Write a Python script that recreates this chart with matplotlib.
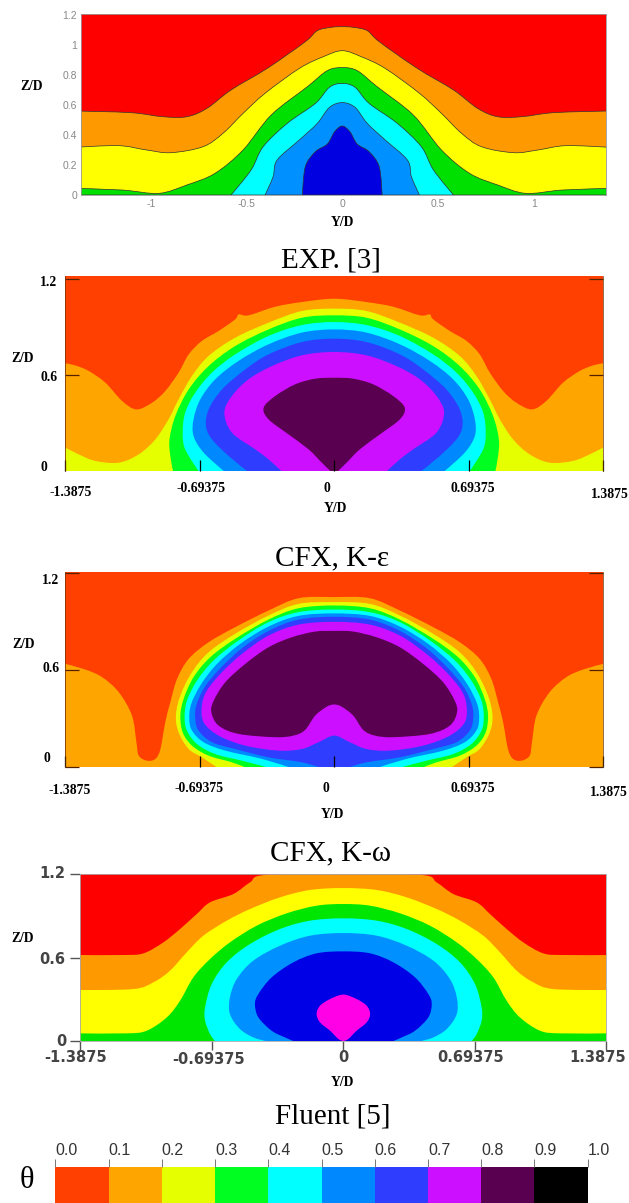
import matplotlib
matplotlib.use('Agg')
import matplotlib.pyplot as plt
from matplotlib.path import Path
from matplotlib.patches import PathPatch
import numpy as np

W, H = 629, 1203
plt.rcParams['font.family'] = ['Liberation Serif', 'DejaVu Sans']

# contour boundaries, half profile (Y/D >= 0), outermost first. The field is mirrored about Y/D = 0
exp_y = [
    [0, .057, .13, .193, .392, .581, .706, .811, .937, 1.105, 1.39, 1.39],
    [0, .099, .224, .403, .518, .623, .727, .895, 1.021, 1.168, 1.39, 1.39],
    [0, .078, .182, .371, .518, .665, .811, .958, 1.147, 1.39, 1.39],
    [0, .067, .14, .287, .413, .476, .581],
    [0, .067, .13, .224, .34, .361, .403],
    [0, .04, .078, .14, .193, .208],
]
exp_z = [
    [1.122, 1.118, 1.096, 1.022, .844, .700, .578, .522, .522, .549, .56, 0],
    [.962, .922, .844, .678, .544, .411, .322, .282, .30, .329, .318, 0],
    [.849, .829, .722, .533, .30, .144, .067, .011, .033, .044, 0],
    [.744, .718, .611, .478, .322, .167, 0],
    [.616, .584, .478, .367, .233, .122, 0],
    [.46, .422, .340, .289, .189, 0],
]
exp_colors = ['#ff9900', '#ffff00', '#00e000', '#00ffff', '#0090ff', '#0000e0']
exp_bg = '#ff0000'

ke_y = [
    [0, .167, .304, .442, .493, .511, .597, .683, .751, .803, .872, .94, 1.021, 1.095, 1.181, 1.267, 1.336, 1.3875, 1.3875],
    [0, .167, .339, .511, .648, .734, .803, .855, .923, 1.009, 1.112, 1.233, 1.319, 1.3875, 1.3875],
    [0, .167, .339, .511, .648, .751, .82, .85, .846, .832],
    [0, .167, .339, .511, .631, .717, .769, .782, .769, .7],
    [0, .167, .339, .494, .614, .691, .726, .726, .674, .57],
    [0, .167, .339, .459, .579, .648, .662, .631, .545, .45],
    [0, .167, .321, .442, .528, .567, .528, .407, .339, .273],
    [0, .098, .201, .304, .364, .339, .236, .132, .064, .02],
]
ke_z = [
    [1.077, 1.056, 1.027, .973, .979, .948, .875, .813, .729, .615, .5, .427, .385, .438, .552, .625, .66, .673, 0],
    [1.015, 1.0, .927, .833, .719, .594, .448, .323, .198, .104, .052, .063, .104, .146, 0],
    [.973, .958, .885, .781, .656, .51, .344, .198, .094, 0],
    [.931, .912, .844, .729, .615, .49, .365, .24, .135, 0],
    [.885, .865, .792, .688, .573, .448, .323, .219, .115, 0],
    [.827, .806, .729, .635, .51, .385, .281, .198, .094, 0],
    [.744, .723, .656, .573, .469, .365, .24, .135, .073, 0],
    [.583, .577, .542, .469, .396, .323, .229, .135, .052, 0],
]
cfx_colors = ['#ffa500', '#e5ff00', '#00ff21', '#00ffff', '#0088ff', '#2f3dff', '#cc10ff', '#5a0050']
cfx_bg = '#ff4000'

kw_y = [
    [0, .184, .339, .511, .648, .751, .811, .846, .872, .897, .923, .966, 1.009, 1.021, 1.044, 1.112, 1.198, 1.284, 1.3875, 1.3875],
    [0, .184, .339, .511, .648, .734, .794, .817, .803, .751, .683, .605],
    [0, .184, .339, .511, .64, .726, .777, .794, .782, .734, .648, .528, .46],
    [0, .184, .339, .494, .623, .708, .76, .772, .76, .708, .614, .476, .346],
    [0, .184, .339, .485, .605, .686, .738, .748, .734, .674, .562, .373, .232],
    [0, .184, .339, .476, .588, .669, .712, .717, .7, .631, .511, .339, .167, .077],
    [0, .184, .339, .476, .579, .657, .683, .674, .597, .459, .287, .167, .081, 0],
    [0, .098, .218, .339, .459, .562, .622, .634, .597, .493, .304, .21, .15, .098, .038, 0],
]
kw_z = [
    [1.052, 1.045, .969, .866, .773, .67, .546, .402, .278, .113, .052, .041, .072, .155, .32, .464, .557, .604, .639, 0],
    [1.021, 1.01, .938, .825, .711, .588, .443, .32, .216, .113, .062, 0],
    [1.0, .983, .913, .794, .68, .557, .423, .32, .216, .134, .072, .031, 0],
    [.975, .959, .897, .784, .66, .536, .412, .309, .227, .144, .082, .041, 0],
    [.951, .936, .87, .763, .639, .515, .392, .299, .227, .155, .103, .052, 0],
    [.93, .913, .843, .736, .612, .495, .381, .299, .227, .155, .113, .062, .031, 0],
    [.899, .882, .814, .701, .588, .474, .381, .278, .196, .134, .103, .113, .155, .196],
    [.843, .839, .804, .742, .639, .526, .412, .34, .258, .206, .186, .196, .231, .32, .375, .388],
]

fl_y = [
    [0, .413, .492, .58, .703, .773, .861, .949, 1.054, 1.16, 1.3875, 1.3875],
    [0, .176, .334, .492, .615, .738, .826, .914, 1.002, 1.107, 1.3875, 1.3875],
    [0, .141, .299, .457, .598, .703, .791, .861, .931, 1.037, 1.142, 1.3875, 1.3875],
    [0, .176, .334, .492, .615, .694, .729, .729, .703, .677],
    [0, .176, .334, .475, .562, .598, .598, .545, .475, .41],
    [0, .141, .264, .378, .448, .466, .448, .378, .308, .264],
    [0, .07, .123, .141, .123, .07, .026, 0],
]
fl_z = [
    [1.2, 1.195, 1.142, 1.058, .998, .914, .806, .71, .631, .619, .619, 0],
    [1.101, 1.087, 1.034, .95, .866, .758, .638, .506, .422, .374, .367, 0],
    [.986, .974, .919, .83, .71, .59, .458, .29, .17, .074, .055, .055, 0],
    [.883, .866, .806, .698, .566, .41, .242, .146, .05, 0],
    [.777, .758, .686, .578, .446, .314, .194, .086, .026, 0],
    [.645, .631, .566, .458, .338, .266, .17, .074, .026, 0],
    [.334, .302, .254, .194, .134, .074, .014, 0],
]
fl_colors = ['#ff9900', '#ffff00', '#00e600', '#00ffff', '#0090ff', '#0000e6', '#ff00e6']
fl_bg = '#ff0000'

theta_levels = [0.0, 0.1, 0.2, 0.3, 0.4, 0.5, 0.6, 0.7, 0.8, 0.9, 1.0]
theta_colors = ['#ff4000', '#ffa500', '#e5ff00', '#00ff21', '#00ffff',
                '#0088ff', '#2f3dff', '#cc10ff', '#5a0050', '#000000']

wide_ticks = [-1.3875, -0.69375, 0, 0.69375, 1.3875]
wide_labels = ['-1.3875', '-0.69375', '0', '0.69375', '1.3875']


def panel(left, top, right, bottom):
    return fig.add_axes([left / W, 1 - bottom / H, (right - left) / W, (bottom - top) / H])


def label(x, y, s, **kw):
    # x, y in pixels from the top left of the picture
    kw.setdefault('ha', 'center')
    kw.setdefault('va', 'center')
    fig.text(x / W, 1 - y / H, s, **kw)


def band_path(y, z):
    # closed curve through the read points, corners kept on the floor and side walls
    pts = np.column_stack([np.r_[y, -y[:0:-1]], np.r_[z, z[:0:-1]]])
    if y[-1] == 0:
        # profile closes on the axis, so the mirrored copy must not repeat the last point
        pts = np.column_stack([np.r_[y, -y[-2:0:-1]], np.r_[z, z[-2:0:-1]]])
    n = len(pts)
    tan = (np.roll(pts, -1, axis=0) - np.roll(pts, 1, axis=0)) / 6
    hard = (pts[:, 1] == 0) | (np.abs(pts[:, 0]) >= 1.38)
    tan[hard] = 0
    verts = [pts[0]]
    codes = [Path.MOVETO]
    for i in range(n):
        j = (i + 1) % n
        verts += [pts[i] + tan[i], pts[j] - tan[j], pts[j]]
        codes += [Path.CURVE4] * 3
    return Path(verts, codes)


def fill_field(ax, ys, zs, colors, bg, edge='none', lw=0):
    ax.set_facecolor(bg)
    for y, z, c in zip(ys, zs, colors):
        ax.add_patch(PathPatch(band_path(np.array(y), np.array(z)), facecolor=c, edgecolor=edge, linewidth=lw))


def cfx_axes(ax, top_z, z_ticks):
    ax.set_xlim(-1.3875, 1.3875)
    ax.set_ylim(0, top_z)
    ax.set_xticks(wide_ticks)
    ax.set_yticks(z_ticks)
    ax.set_xticklabels([])
    ax.set_yticklabels([])
    ax.tick_params(axis='x', direction='in', length=8, width=0.9, color='black')
    ax.tick_params(axis='y', direction='in', length=10, width=0.9, color='#552200', right=True)
    for side in ['top', 'bottom']:
        ax.spines[side].set_visible(False)
    for side in ['left', 'right']:
        ax.spines[side].set_color('#663300')
        ax.spines[side].set_linewidth(0.5)


fig = plt.figure(figsize=(W / 100, H / 100), dpi=100)
bold = dict(fontweight='bold', fontsize=9.8, color='black')
caption = dict(fontsize=21, color='black')

# EXP
ax = panel(81.4, 13.5, 606, 195)
fill_field(ax, exp_y, exp_z, exp_colors, exp_bg, edge='#333333', lw=0.5)
ax.set_xlim(-1.362, 1.377)
ax.set_ylim(0, 1.21)
ax.set_xticks([-1, -0.5, 0, 0.5, 1])
ax.set_xticklabels(['-1', '-0.5', '0', '0.5', '1'], family='Liberation Sans', fontsize=7.5, color='#888888')
ax.set_yticks([0, 0.2, 0.4, 0.6, 0.8, 1, 1.2])
ax.set_yticklabels(['0', '0.2', '0.4', '0.6', '0.8', '1', '1.2'], family='Liberation Sans', fontsize=7.5, color='#888888')
ax.tick_params(length=0, pad=3)
for s in ax.spines.values():
    s.set_color('#999999')
    s.set_linewidth(0.6)
label(32, 86, 'Z/D', **bold)
label(342, 223, 'Y/D', **bold)
label(331, 260, 'EXP. [3]', **caption)

# CFX k-epsilon
ax = panel(65.4, 276, 603, 471)
fill_field(ax, ke_y, ke_z, cfx_colors, cfx_bg)
cfx_axes(ax, 1.219, [0.6, 1.2])
for x, y, s in zip([71, 200.6, 327, 473, 610], [492.7, 489, 489, 489, 494], wide_labels):
    label(x, y, s, **bold)
for x, y, s in zip([49, 49, 44], [283, 377, 467], ['1.2', '0.6', '0']):
    label(x, y, s, **bold)
label(23, 358, 'Z/D', **bold)
label(335, 509, 'Y/D', **bold)
label(332, 558, 'CFX, K-ε', **caption)

# CFX k-omega
ax = panel(65.4, 571.7, 603, 767.3)
fill_field(ax, kw_y, kw_z, cfx_colors, cfx_bg)
cfx_axes(ax, 1.209, [0, 0.6, 1.2])
for x, y, s in zip([70, 199, 326, 472.5, 608.5], [791, 789, 788, 788, 792], wide_labels):
    label(x, y, s, **bold)
for x, y, s in zip([51, 51, 47], [581, 669, 759], ['1.2', '0.6', '0']):
    label(x, y, s, **bold)
label(24, 645, 'Z/D', **bold)
label(332, 814, 'Y/D', **bold)
label(330, 853, 'CFX, K-ω', **caption)

# Fluent
ax = panel(80.2, 874.3, 606.5, 1041)
fill_field(ax, fl_y, fl_z, fl_colors, fl_bg)
ax.set_xlim(-1.3875, 1.3875)
ax.set_ylim(0, 1.2)
ax.set_xticks(wide_ticks)
ax.set_yticks([0, 0.6, 1.2])
ax.set_xticklabels([])
ax.set_yticklabels([])
ax.tick_params(axis='x', length=6.5, width=1, color='#555555')
ax.tick_params(axis='y', length=7, width=1, color='#555555')
for s in ax.spines.values():
    s.set_color('#aaaaaa')
    s.set_linewidth(0.6)
grey_bold = dict(family='DejaVu Sans', fontweight='bold', fontsize=10.5, color='#444444')
for x, y, s in zip([75.4, 208.6, 343, 471, 597.7], [1058, 1059, 1058, 1057, 1057], wide_labels):
    label(x, y, s, **grey_bold)
for x, y, s in zip([52, 52, 61], [874, 960, 1042], ['1.2', '0.6', '0']):
    label(x, y, s, **grey_bold)
label(23, 938, 'Z/D', **bold)
label(342, 1083, 'Y/D', **bold)
label(333, 1117, 'Fluent [5]', **caption)

# theta scale
ax = panel(55.4, 1167, 587.6, 1203)
lefts = np.array(theta_levels[:-1])
ax.bar(lefts, 1, width=0.1, align='edge', color=theta_colors, linewidth=0)
ax.set_xlim(0, 1)
ax.set_ylim(0, 1)
ax.set_xticks(theta_levels)
ax.set_xticklabels(['%.1f' % t for t in theta_levels], family='Liberation Sans', fontsize=11.5, color='#333333', ha='left')
ax.set_yticks([])
ax.tick_params(axis='x', bottom=False, top=True, labelbottom=False, labeltop=True, length=5.8, width=0.7,
               color='#777777', pad=0.5)
for s in ax.spines.values():
    s.set_visible(False)
label(27, 1181, 'θ', fontsize=22, color='black')

fig.savefig('out.png', dpi=100)
